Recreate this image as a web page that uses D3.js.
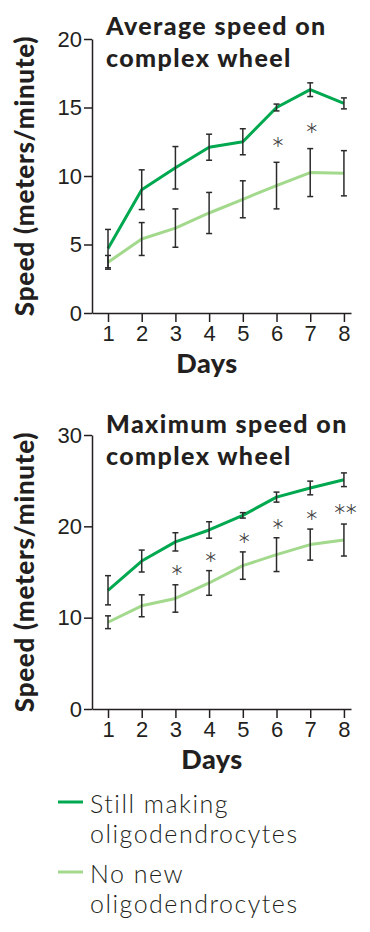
<!DOCTYPE html>
<html>
<head>
    <title>Speed on complex wheel</title>
    <script src="https://d3js.org/d3.v7.min.js"></script>
    <style>
        body { margin: 0; background: #fff; }
        svg { font-family: Lato, "Open Sans", sans-serif; color: #231f20; }
        .tick text { font-size: 22px; font-weight: 300; fill: #231f20; }
        .axis path, .axis line { stroke: #231f20; stroke-width: 1.5; }
        .title { font-size: 25px; font-weight: 900; fill: #231f20; letter-spacing: 1.4px; }
        .axis-label { font-weight: 900; fill: #231f20; }
        .legend text { font-size: 25px; font-weight: 300; fill: #231f20; letter-spacing: 1.5px; }
        .star { font-size: 34px; font-weight: 300; fill: #333; text-anchor: middle; letter-spacing: -3px; }
    </style>
</head>
<body>
    <svg width="370" height="932"></svg>
    <script>
        var days = [1, 2, 3, 4, 5, 6, 7, 8];
        var seriesNames = ["Still making oligodendrocytes", "No new oligodendrocytes"];

        // Average speed (m/min)
        var avgStill = [4.7, 9.0, 10.6, 12.1, 12.5, 15.0, 16.3, 15.3];
        var avgStillErr = [1.4, 1.45, 1.55, 0.95, 0.95, 0.25, 0.5, 0.4];
        var avgNone = [3.7, 5.4, 6.2, 7.3, 8.3, 9.3, 10.25, 10.2];
        var avgNoneErr = [0.5, 1.2, 1.4, 1.5, 1.35, 1.7, 1.75, 1.65];
        var avgStars = [null, null, null, null, null, "*", "*", null];
        var avgStarY = [0, 0, 0, 0, 0, 12.6, 13.6, 0];
        var avgTicks = [0, 5, 10, 15, 20];

        // Maximum speed (m/min)
        var maxStill = [13.0, 16.2, 18.3, 19.6, 21.2, 23.2, 24.2, 25.1];
        var maxStillErr = [1.6, 1.2, 1.0, 0.9, 0.3, 0.55, 0.75, 0.75];
        var maxNone = [9.5, 11.3, 12.1, 13.8, 15.7, 16.9, 18.0, 18.5];
        var maxNoneErr = [0.7, 1.2, 1.5, 1.35, 1.5, 1.85, 1.7, 1.75];
        var maxStars = [null, null, "*", "*", "*", "*", "*", "**"];
        var maxStarY = [0, 0, 15.4, 16.8, 18.9, 20.4, 21.4, 22.1];
        var maxTicks = [0, 10, 20, 30];

        var colors = ["#00a84f", "#a3d98c"];
        var svg = d3.select("svg");

        function drawPanel(p) {
            var x = d3.scaleLinear().domain([0.525, 8.21]).range([92, 351]);
            var y = d3.scaleLinear().domain([0, p.yMax]).range([p.bottom, p.top]);
            var g = svg.append("g");

            g.append("g")
                .attr("class", "axis")
                .attr("transform", "translate(0," + p.bottom + ")")
                .call(d3.axisBottom(x).tickValues(days).tickFormat(d3.format("d"))
                    .tickSize(9).tickSizeOuter(0).tickPadding(3));

            g.append("g")
                .attr("class", "axis")
                .attr("transform", "translate(92,0)")
                .call(d3.axisLeft(y).tickValues(p.ticks).tickSize(8).tickSizeOuter(0).tickPadding(2));

            var line = d3.line().x(function(d) { return x(d.day); }).y(function(d) { return y(d.v); });

            p.series.forEach(function(s, i) {
                var pts = days.map(function(d, j) { return {day: d, v: s.vals[j], e: s.err[j]}; });
                g.append("path")
                    .datum(pts)
                    .attr("fill", "none")
                    .attr("stroke", colors[i])
                    .attr("stroke-width", 3)
                    .attr("stroke-linejoin", "round")
                    .attr("d", line);
            });

            p.series.forEach(function(s) {
                var pts = days.map(function(d, j) { return {day: d, v: s.vals[j], e: s.err[j]}; });
                var eb = g.append("g").selectAll("g").data(pts).enter().append("g")
                    .attr("stroke", "#2b2b2b").attr("stroke-width", 1.5);
                eb.append("line")
                    .attr("x1", function(d) { return x(d.day); })
                    .attr("x2", function(d) { return x(d.day); })
                    .attr("y1", function(d) { return y(d.v + d.e); })
                    .attr("y2", function(d) { return y(d.v - d.e); });
                [1, -1].forEach(function(sign) {
                    eb.append("line")
                        .attr("x1", function(d) { return x(d.day) - 3; })
                        .attr("x2", function(d) { return x(d.day) + 3; })
                        .attr("y1", function(d) { return y(d.v + sign * d.e); })
                        .attr("y2", function(d) { return y(d.v + sign * d.e); });
                });
            });

            var starData = days.map(function(d, j) { return {day: d, s: p.stars[j], v: p.starY[j]}; })
                .filter(function(d) { return d.s; });
            g.selectAll(".star").data(starData).enter().append("text")
                .attr("class", "star")
                .attr("x", function(d) { return x(d.day); })
                .attr("y", function(d) { return y(d.v); })
                .attr("dy", "0.64em")
                .text(function(d) { return d.s; });

            p.title.forEach(function(t, i) {
                g.append("text").attr("class", "title")
                    .attr("x", 106).attr("y", p.titleY + i * 32)
                    .text(t);
            });

            g.append("text").attr("class", "axis-label")
                .attr("x", p.daysX).attr("y", p.bottom + 60)
                .attr("text-anchor", "middle")
                .style("font-size", "27px")
                .style("letter-spacing", "0.5px")
                .text("Days");

            g.append("text").attr("class", "axis-label")
                .attr("transform", "translate(34," + ((p.top + p.bottom) / 2) + ") rotate(-90)")
                .attr("text-anchor", "middle")
                .style("font-size", "26px")
                .style("letter-spacing", "0.7px")
                .text("Speed (meters/minute)");
        }

        drawPanel({
            top: 39, bottom: 313, yMax: 20, ticks: avgTicks,
            title: ["Average speed on", "complex wheel"], titleY: 35, daysX: 207,
            series: [{vals: avgStill, err: avgStillErr}, {vals: avgNone, err: avgNoneErr}],
            stars: avgStars, starY: avgStarY
        });

        drawPanel({
            top: 435, bottom: 709, yMax: 30, ticks: maxTicks,
            title: ["Maximum speed on", "complex wheel"], titleY: 433, daysX: 212,
            series: [{vals: maxStill, err: maxStillErr}, {vals: maxNone, err: maxNoneErr}],
            stars: maxStars, starY: maxStarY
        });

        // Legend
        var legendLines = [["Still making", "oligodendrocytes"], ["No new", "oligodendrocytes"]];
        var legend = svg.append("g").attr("class", "legend")
            .selectAll("g").data(seriesNames).enter().append("g")
            .attr("transform", function(d, i) { return "translate(0," + (802 + i * 70) + ")"; });
        legend.append("line")
            .attr("x1", 58).attr("x2", 83)
            .attr("stroke", function(d, i) { return colors[i]; })
            .attr("stroke-width", 3);
        legend.each(function(d, i) {
            d3.select(this).selectAll("text").data(legendLines[i]).enter().append("text")
                .attr("x", 90)
                .attr("y", function(t, k) { return 11 + k * 30; })
                .text(function(t) { return t; });
        });
    </script>
</body>
</html>
